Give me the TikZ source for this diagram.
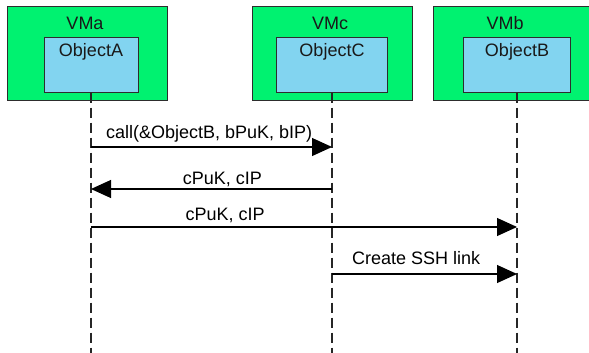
\documentclass[tikz,border=0pt]{standalone}
\usepackage{fontspec}
\setmainfont{Liberation Sans}
\usetikzlibrary{arrows.meta}
\definecolor{vmgreen}{RGB}{0,242,112}
\definecolor{objblue}{RGB}{130,212,240}
\definecolor{edge}{RGB}{45,45,45}
\tikzset{
  vmbox/.style={draw=edge, line width=1pt, fill=vmgreen, rectangle, inner sep=0pt},
  objbox/.style={draw=edge, line width=1pt, fill=objblue, rectangle, inner sep=0pt},
  title/.style={font=\fontsize{18}{20}\selectfont, text=black!90, inner sep=0pt, anchor=base},
  lifeline/.style={draw=black!85, line width=1.1pt, dash pattern=on 10pt off 5pt},
  msg/.style={draw=black, line width=1.1pt, -{Triangle[length=20pt, width=18pt]}},
  lbl/.style={font=\fontsize{18}{20}\selectfont, anchor=base, inner sep=0pt}
}
\begin{document}
\begin{tikzpicture}[x=1pt, y=-1pt]
\useasboundingbox (0,0) rectangle (589,353);
\clip (0,0) rectangle (589,353);

% virtual machines
\node[vmbox, minimum width=160pt, minimum height=93pt] (vma) at (87,53.5) {};
\node[vmbox, minimum width=160pt, minimum height=93pt] (vmc) at (332,53.5) {};
\node[vmbox, minimum width=170pt, minimum height=93pt] (vmb) at (518,53.5) {};
\node[title] (vmaT) at (85,29.5) {VMa};
\node[title] (vmcT) at (330,29.5) {VMc};
\node[title] (vmbT) at (505,29.5) {VMb};

% objects
\node[objbox, minimum width=94pt, minimum height=54pt] (objA) at (91,65) {};
\node[objbox, minimum width=111pt, minimum height=54pt] (objC) at (332,65) {};
\node[objbox, minimum width=107pt, minimum height=54pt] (objB) at (517,65) {};
\node[title] (objAT) at (91,57) {ObjectA};
\node[title] (objCT) at (332,57) {ObjectC};
\node[title] (objBT) at (517,57) {ObjectB};

% lifelines
\coordinate (endA) at (objA.south |- 0,356);
\coordinate (endC) at (objC.south |- 0,356);
\coordinate (endB) at (objB.south |- 0,356);
\draw[lifeline] (objA.south) -- (endA);
\draw[lifeline] (objC.south) -- (endC);
\draw[lifeline] (objB.south) -- (endB);

% message points on the lifelines
\coordinate (a1) at (objA.south |- 0,147);
\coordinate (c1) at (objC.south |- 0,147);
\coordinate (c2) at (objC.south |- 0,189);
\coordinate (a2) at (objA.south |- 0,189);
\coordinate (a3) at (objA.south |- 0,227);
\coordinate (b3) at (objB.south |- 0,227);
\coordinate (c4) at (objC.south |- 0,274);
\coordinate (b4) at (objB.south |- 0,274);

% messages
\draw[msg] (a1) -- node[lbl, pos=0.49, yshift=9pt] {call(\&ObjectB, bPuK, bIP)} (c1);
\draw[msg] (c2) -- node[lbl, pos=0.455, yshift=4.5pt] {cPuK, cIP} (a2);
\draw[msg] (a3) -- node[lbl, pos=0.315, yshift=7pt] {cPuK, cIP} (b3);
\draw[msg] (c4) -- node[lbl, pos=0.455, yshift=9.5pt] {Create SSH link} (b4);
\end{tikzpicture}
\end{document}
